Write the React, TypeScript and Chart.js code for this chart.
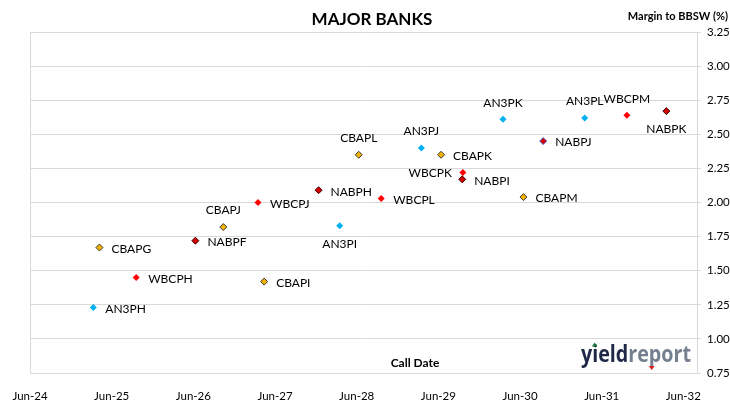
import React, { useEffect, useRef } from 'react';
import { Chart, registerables } from 'chart.js';

Chart.register(...registerables);

// ---------------- DATA ----------------
const xTickLabels = ['Jun-24', 'Jun-25', 'Jun-26', 'Jun-27', 'Jun-28', 'Jun-29', 'Jun-30', 'Jun-31', 'Jun-32'];

const securityNames = [
  'AN3PH', 'CBAPG', 'WBCPH', 'NABPF', 'CBAPJ', 'WBCPJ', 'CBAPI', 'NABPH', 'AN3PI', 'CBAPL', 'WBCPL',
  'AN3PJ', 'CBAPK', 'WBCPK', 'NABPI', 'AN3PK', 'CBAPM', 'NABPJ', 'AN3PL', 'WBCPM', 'NABPK',
];

const callDates = [
  '2025-03-10', '2025-04-07', '2025-09-19', '2026-06-10', '2026-10-13', '2027-03-16', '2027-04-13',
  '2027-12-13', '2028-03-16', '2028-06-10', '2028-09-19', '2029-03-16', '2029-06-13', '2029-09-19',
  '2029-09-16', '2030-03-16', '2030-06-16', '2030-09-13', '2031-03-16', '2031-09-22', '2032-03-16',
];

const marginsToBBSW = [
  1.23, 1.67, 1.45, 1.72, 1.82, 2.0, 1.42, 2.09, 1.83, 2.35, 2.03,
  2.4, 2.35, 2.22, 2.17, 2.61, 2.04, 2.45, 2.62, 2.64, 2.67,
];

const issuerPrefixes = ['AN3', 'WBC', 'CBA', 'NAB'];

// ---------------- STYLE ----------------
const issuerStyle: Record<string, { fill: string; border: string; radius: number; borderWidth: number }> = {
  AN3: { fill: '#00B0F0', border: '#00B0F0', radius: 3.5, borderWidth: 0 },
  WBC: { fill: '#FF0000', border: '#FF0000', radius: 3.5, borderWidth: 0 },
  CBA: { fill: '#F2B200', border: '#3A3A3A', radius: 3.5, borderWidth: 1 },
  NAB: { fill: '#D40000', border: '#3A0000', radius: 3.5, borderWidth: 1 },
};
const specialBorder: Record<string, string> = { NABPJ: '#5060C0' };

const labelPlacement: Record<string, string> = {
  CBAPJ: 't', AN3PI: 'b', CBAPL: 't', AN3PJ: 't', WBCPK: 'l', AN3PK: 't', AN3PL: 't', WBCPM: 't', NABPK: 'b',
};

const FONT = 'Lato, "Liberation Sans", sans-serif';
const GRID = '#D9D9D9';

function monthsFromStart(d: string): number {
  const [y, m, day] = d.split('-').map(Number);
  return (y - 2024) * 12 + (m - 6) + (day - 1) / 30;
}

const overlayPlugin = {
  id: 'overlay',
  beforeDatasetsDraw(chart: any) {
    const { ctx, chartArea } = chart;
    ctx.save();
    ctx.strokeStyle = GRID;
    ctx.lineWidth = 1;
    ctx.beginPath();
    ctx.moveTo(Math.round(chartArea.left) + 0.5, chartArea.top);
    ctx.lineTo(Math.round(chartArea.left) + 0.5, chartArea.bottom);
    ctx.stroke();
    ctx.restore();
  },
  afterDatasetsDraw(chart: any) {
    const { ctx } = chart;
    ctx.save();
    // point labels
    ctx.font = `12px ${FONT}`;
    ctx.fillStyle = '#000000';
    chart.data.datasets.forEach((ds: any, di: number) => {
      const meta = chart.getDatasetMeta(di);
      meta.data.forEach((el: any, j: number) => {
        const name = ds.data[j].name;
        const p = labelPlacement[name] || 'r';
        let x = el.x;
        let y = el.y;
        ctx.textBaseline = 'middle';
        if (p === 'r') {
          ctx.textAlign = 'left';
          x += 12;
          y += 1.5;
        } else if (p === 'l') {
          ctx.textAlign = 'right';
          x -= 11;
          y += 1;
        } else if (p === 't') {
          ctx.textAlign = 'center';
          y -= 16.5;
        } else {
          ctx.textAlign = 'center';
          y += 18;
        }
        ctx.fillText(name, x, y);
      });
    });

    // title
    ctx.fillStyle = '#000000';
    ctx.textAlign = 'center';
    ctx.textBaseline = 'middle';
    ctx.font = `bold 17px ${FONT}`;
    ctx.fillText('MAJOR BANKS', 372, 20);

    // y axis title
    ctx.textAlign = 'right';
    ctx.font = `bold 11px ${FONT}`;
    ctx.fillText('Margin to BBSW (%)', 728, 16);

    // x axis title
    ctx.textAlign = 'center';
    ctx.font = `bold 12px ${FONT}`;
    ctx.fillText('Call Date', 415, 363);

    // logo
    ctx.textAlign = 'left';
    ctx.textBaseline = 'alphabetic';
    ctx.font = `bold 24px "Open Sans", ${FONT}`;
    const w1 = ctx.measureText('yield').width;
    const w2 = ctx.measureText('report').width;
    const sx = 110 / (w1 + w2);
    ctx.save();
    ctx.translate(581, 362);
    ctx.scale(sx, 1);
    ctx.fillStyle = '#1E2746';
    ctx.fillText('yield', 0, 0);
    ctx.fillStyle = '#75808F';
    ctx.fillText('report', w1, 0);
    ctx.restore();
    // small triangles
    ctx.fillStyle = '#1E7A3A';
    ctx.beginPath();
    ctx.moveTo(594.7, 342.5);
    ctx.lineTo(597.5, 346.5);
    ctx.lineTo(591.9, 346.5);
    ctx.closePath();
    ctx.fill();
    ctx.fillStyle = '#E02020';
    ctx.beginPath();
    ctx.moveTo(648.8, 366);
    ctx.lineTo(654.6, 366);
    ctx.lineTo(651.7, 370);
    ctx.closePath();
    ctx.fill();
    ctx.restore();
  },
};

export default function App() {
  const canvasRef = useRef<HTMLCanvasElement | null>(null);

  useEffect(() => {
    if (!canvasRef.current) return;
    const datasets = issuerPrefixes.map((prefix) => {
      const st = issuerStyle[prefix];
      const idx = securityNames.map((n, i) => i).filter((i) => securityNames[i].startsWith(prefix));
      return {
        label: prefix,
        data: idx.map((i) => ({ x: monthsFromStart(callDates[i]), y: marginsToBBSW[i], name: securityNames[i] })),
        pointStyle: 'rectRot',
        pointRadius: st.radius,
        pointHoverRadius: st.radius,
        pointBackgroundColor: st.fill,
        pointBorderColor: idx.map((i) => specialBorder[securityNames[i]] || st.border),
        pointBorderWidth: st.borderWidth,
        showLine: false,
      };
    });

    const chart = new Chart(canvasRef.current, {
      type: 'scatter',
      data: { datasets } as any,
      plugins: [overlayPlugin],
      options: {
        animation: false,
        responsive: false,
        devicePixelRatio: 1,
        layout: { padding: { left: 30, top: 32, right: 0, bottom: 0 } },
        plugins: { legend: { display: false }, tooltip: { enabled: false }, title: { display: false } },
        scales: {
          x: {
            type: 'linear',
            min: 0,
            max: 98,
            afterBuildTicks: (s: any) => {
              s.ticks = xTickLabels.map((_, i) => ({ value: i * 12 }));
            },
            afterFit: (s: any) => {
              s.height = 27;
            },
            ticks: {
              autoSkip: false,
              maxRotation: 0,
              padding: 8,
              color: '#000000',
              font: { family: FONT, size: 11.5 },
              callback: (v: any) => xTickLabels[Math.round(Number(v) / 12)] ?? '',
            },
            grid: { display: false },
            border: { display: true, color: GRID },
          },
          y: {
            position: 'right',
            min: 0.75,
            max: 3.25,
            afterFit: (s: any) => {
              s.width = 33;
            },
            ticks: {
              stepSize: 0.25,
              padding: 6,
              color: '#000000',
              font: { family: FONT, size: 11.5 },
              callback: (v: any) => Number(v).toFixed(2),
            },
            grid: { color: GRID, tickLength: 4, drawTicks: true },
            border: { display: true, color: GRID },
          },
        },
      } as any,
    });
    return () => chart.destroy();
  }, []);

  return (
    <div style={{ position: 'fixed', left: 0, top: 0, width: 730, height: 400, background: '#ffffff' }}>
      <canvas ref={canvasRef} width={730} height={400} style={{ width: 730, height: 400 }} />
    </div>
  );
}
